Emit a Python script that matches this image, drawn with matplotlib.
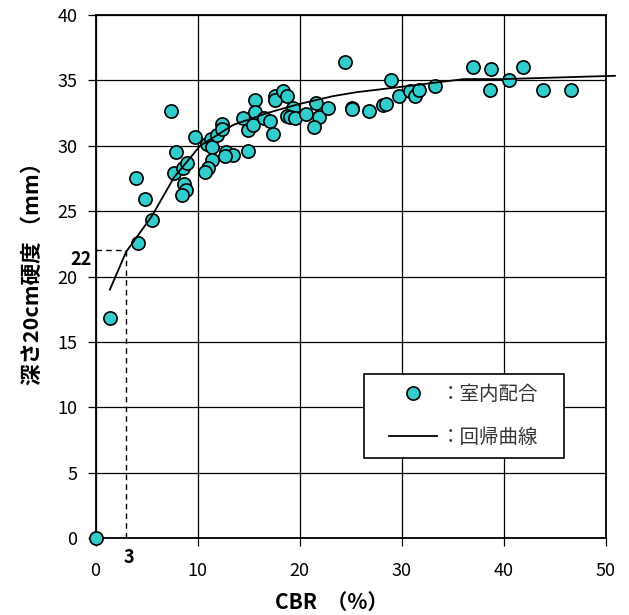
import matplotlib
matplotlib.use('Agg')
import matplotlib.pyplot as plt
from matplotlib.patches import Rectangle

plt.rcParams['font.family'] = ['Noto Sans CJK JP', 'DejaVu Sans']

# measured points (CBR %, hardness at 20cm depth mm)
cbr = [0, 1.4, 4.2, 4.0, 4.85, 5.5, 7.4, 7.7, 7.9, 8.6, 9.0, 8.7, 8.9, 8.5,
       9.7, 10.9, 11.3, 11.45, 11.9, 12.4, 12.4, 11.4, 11.05, 10.7,
       12.8, 13.45, 12.7, 14.9, 14.4, 14.9, 15.4, 15.6, 15.6, 16.55,
       17.1, 17.4, 17.6, 17.6, 18.4, 18.8, 19.3, 18.8, 19.1, 19.5,
       20.6, 21.6, 21.9, 21.45, 22.8, 24.4, 25.1, 25.1, 26.8, 28.2,
       28.5, 29.0, 29.7, 30.8, 31.3, 31.65, 33.3, 37.0, 38.8, 38.7,
       40.5, 41.9, 43.9, 46.6]
hardness = [0, 16.8, 22.6, 27.5, 25.9, 24.3, 32.65, 27.9, 29.5, 28.3, 28.7, 27.1, 26.6, 26.2,
            30.7, 30.1, 30.5, 29.9, 30.8, 31.65, 31.3, 28.9, 28.3, 28.0,
            29.5, 29.3, 29.25, 29.6, 32.1, 31.2, 31.6, 33.5, 32.6, 32.1,
            31.9, 30.9, 33.8, 33.5, 34.2, 33.8, 32.9, 32.3, 32.2, 32.1,
            32.4, 33.3, 32.2, 31.4, 32.9, 36.4, 32.9, 32.8, 32.65, 33.1,
            33.2, 35.0, 33.8, 34.2, 33.8, 34.3, 34.6, 36.0, 35.9, 34.3,
            35.0, 36.0, 34.3, 34.3]

# regression curve
fit_x = [1.4, 3.0, 5.5, 7.7, 10.25, 13.5, 16.8, 20.0, 23.3, 25.6, 29.9, 36.1, 40.0, 50.9]
fit_y = [19.0, 21.9, 24.6, 27.6, 30.0, 31.6, 32.5, 33.2, 33.8, 34.1, 34.5, 35.1, 35.1, 35.35]

# read-off point
ref_x = 3
ref_y = 22

W, H = 629, 615
fig = plt.figure(figsize=(W / 100, H / 100), dpi=100)
ax = fig.add_axes([0.152, 0.1252, 0.811, 0.8504])

ax.set_xlim(0, 50)
ax.set_ylim(0, 40)
ax.set_xticks(range(0, 51, 10))
ax.set_yticks(range(0, 41, 5))
ax.grid(True, color='black', linewidth=0.9)
ax.set_axisbelow(True)
ax.tick_params(direction='out', length=6, width=0.9, labelsize=13, colors='black')
ax.tick_params(axis='x', pad=11)
ax.tick_params(axis='y', pad=7)
for s in ax.spines.values():
    s.set_linewidth(1.3)

ax.plot([0, ref_x], [ref_y, ref_y], color='black', linestyle=(0, (4, 3)), linewidth=1.0)
ax.plot([ref_x, ref_x], [0, ref_y], color='black', linestyle=(0, (4, 3)), linewidth=1.0)

ax.plot(cbr, hardness, linestyle='none', marker='o', markersize=9.5,
        markerfacecolor='#33CCCC', markeredgecolor='black', markeredgewidth=1.2,
        clip_on=False, label='：室内配合', zorder=3)
ax.plot(fit_x, fit_y, color='black', linewidth=1.3, clip_on=False,
        label='：回帰曲線', zorder=4)

ax.text(-0.4, ref_y, str(ref_y), ha='right', va='top', fontsize=13,
        fontweight='bold')
ax.text(ref_x + 0.3, -0.75, str(ref_x), ha='center', va='top', fontsize=13,
        fontweight='bold')

leg = ax.legend(loc='upper left', bbox_to_anchor=(0.557, 0.313), borderaxespad=0,
                frameon=False, fontsize=14, handlelength=2.45, handletextpad=0.2,
                borderpad=0.5, labelspacing=1.12)
for t in leg.get_texts():
    t.set_color('#333333')

fig.text(332 / W, 1 - 602 / H, 'CBR  （%）', ha='center', va='center',
         fontsize=15, fontweight='bold')
fig.text(32 / W, 1 - 268 / H, '深さ20cm硬度 （mm）', ha='center', va='center',
         rotation=90, fontsize=15.5, fontweight='bold')

# legend frame: wider horizontal padding than vertical
fig.canvas.draw()
bb = leg.get_window_extent()
hpad = 16
frame = Rectangle(((bb.x0 - hpad) / W, bb.y0 / H), (bb.width + 2 * hpad) / W, bb.height / H,
                  transform=fig.transFigure, facecolor='white', edgecolor='black',
                  linewidth=1.2, zorder=4.5, clip_on=False)
ax.add_patch(frame)

fig.savefig('out.png', dpi=100)
